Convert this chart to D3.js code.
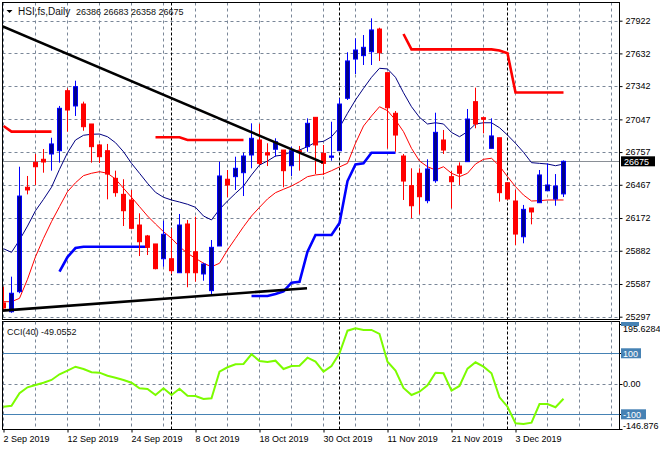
<!DOCTYPE html>
<html><head><meta charset="utf-8">
<script src="https://cdn.jsdelivr.net/npm/d3@7"></script>
<style>
html,body{margin:0;padding:0;background:#fff;}
svg{display:block;font-family:"Liberation Sans",Arial,sans-serif;}
</style></head>
<body>
<svg id="chart" width="660" height="450"></svg>
<script>
// ---------- DATA ----------
const dates = ["2 Sep","3 Sep","4 Sep","5 Sep","6 Sep","9 Sep","10 Sep","11 Sep","12 Sep","13 Sep","16 Sep","17 Sep","18 Sep","19 Sep","20 Sep","23 Sep","24 Sep","25 Sep","26 Sep","27 Sep","30 Sep",
"2 Oct","3 Oct","4 Oct","8 Oct","9 Oct","10 Oct","11 Oct","14 Oct","15 Oct","16 Oct","17 Oct","18 Oct","21 Oct","22 Oct","23 Oct","24 Oct","25 Oct","28 Oct","29 Oct","30 Oct","31 Oct",
"1 Nov","4 Nov","5 Nov","6 Nov","7 Nov","8 Nov","11 Nov","12 Nov","13 Nov","14 Nov","15 Nov","18 Nov","19 Nov","20 Nov","21 Nov","22 Nov","25 Nov","26 Nov","27 Nov","28 Nov","29 Nov",
"2 Dec","3 Dec","4 Dec","5 Dec","6 Dec","9 Dec","10 Dec","11 Dec"];
const open  = [25419,25341,25519,26445,26666,26693,26740,26769,27301,27166,27183,27006,26820,26769,26524,26382,26332,26110,26013,25942,25811,25811,25687,26119,25873,25676,25528,25924,26516,26539,26574,26731,26864,26751,26782,26775,26636,26769,26805,27065,26746,26711,26769,27234,27582,27612,27647,27848,27461,27101,26722,26459,26569,26326,26503,26864,26539,26633,26672,27204,27062,26790,26884,26485,26323,26006,26261,26308,26414,26341,26386];
const high  = [25563,25652,26627,26545,26740,26784,26884,27166,27322,27390,27204,27006,26829,26829,26592,26516,26421,26214,26022,25942,26148,26081,26208,26155,26184,25776,25977,26672,26598,26716,26751,27012,27006,26835,26879,26775,26805,26811,27056,27065,26820,27026,27234,27642,27766,27795,27943,27860,27461,27121,26740,26613,26613,26693,27106,26953,26589,26666,27139,27328,27071,27056,26884,26485,26421,26288,26261,26598,26657,26562,26683];
const low   = [25356,25332,25505,26382,26465,26574,26592,26663,26938,27077,26946,26663,26660,26338,26361,26101,26072,25835,25844,25717,25740,25676,25687,25558,25607,25616,25489,25924,26356,26421,26367,26613,26642,26633,26716,26445,26545,26592,26760,26562,26554,26680,26769,27219,27449,27529,27529,27565,26790,26760,26332,26170,26205,26303,26485,26740,26258,26465,26672,26968,26923,26790,26317,26332,25933,25948,26116,26308,26414,26281,26358];
const close = [25374,25505,26367,26421,26627,26669,26829,27145,27130,27337,26982,26805,26716,26562,26397,26237,26081,25962,25912,25723,26028,25705,26110,25687,25687,25764,25912,26545,26465,26613,26722,26879,26657,26731,26849,26592,26769,26760,27012,26820,26657,26722,27183,27565,27662,27686,27840,27638,27150,26908,26500,26281,26361,26607,26932,26775,26494,26569,27050,27006,27048,26900,26397,26341,26030,26249,26226,26554,26465,26456,26675];
const maFast = [25900,25868,25977,26101,26237,26338,26445,26604,26751,26864,26906,26915,26917,26893,26840,26760,26657,26569,26480,26400,26356,26332,26314,26294,26267,26190,26155,26249,26323,26391,26456,26554,26642,26678,26722,26731,26760,26775,26805,26844,26852,26893,26975,27101,27219,27322,27420,27500,27494,27420,27283,27159,27065,27006,27017,27006,26931,26893,26938,27006,27017,27017,26973,26908,26835,26755,26663,26657,26651,26636,26651];
const maSlow = [25430,25430,25460,25629,25829,25992,26140,26273,26406,26485,26548,26569,26583,26569,26518,26436,26356,26273,26190,26119,26051,25992,25918,25859,25815,25771,25740,25771,25889,25992,26095,26190,26267,26341,26397,26427,26456,26494,26539,26554,26562,26592,26625,26657,26835,26988,27077,27159,27124,27041,26938,26790,26678,26627,26598,26627,26569,26539,26569,26651,26693,26702,26633,26539,26450,26376,26323,26326,26332,26332,26332];
const stopUpper = [26988,26938,26938,26938,26938,26938,26938,null,null,null,null,null,null,null,null,null,null,null,null,26888,26888,26888,26888,26864,26864,26864,26864,26864,26864,26864,26864,null,null,null,null,null,null,null,null,null,null,null,null,null,null,null,null,null,null,null,27804,27668,27668,27668,27668,27668,27668,27668,27668,27668,27668,27668,27658,27633,27285,27285,27285,27285,27285,27285,27285];
const stopLower = [null,null,null,null,null,null,null,25696,25826,25906,25918,25918,25918,25918,25918,25918,25918,25918,25918,null,null,null,null,null,null,null,null,null,null,null,null,25481,25481,25481,25498,25521,25599,25607,25874,26022,26022,26022,26128,26500,26647,26657,26751,26751,26751,26751,null,null,null,null,null,null,null,null,null,null,null,null,null,null,null,null,null,null,null,null,null];
const cci = [-75.1,-71.8,-31.1,-11.5,-3.9,3.6,12.5,31.1,43,56,48.5,37.7,36.4,26.6,20,12.5,3.6,-14.8,-17,-36.7,-14.8,-36.7,-16.1,-39,-40,-49.8,-47.5,39.7,54.1,63.9,64.9,96.7,74.8,71.5,75.7,48.5,58.4,59.3,85.6,72.5,39.7,58.4,100,174.1,182,176.4,176.4,163.3,72.5,43,-13.8,-36.7,-25.9,-4.9,36.4,34.4,-22.6,-7.2,49.5,70.5,56.1,34.4,-44.3,-75.1,-129.5,-131.8,-127.5,-66.2,-66.2,-77,-49.0552];
const trendDown = [{i:0, p:27871},{i:40, p:26663}];
const trendUp   = [{i:0, p:25351},{i:38, p:25549}];
const priceTicks = [27922,27632,27342,27047,26757,26467,26172,25882,25587,25297];
const cciTicks = [195.6284,100,0,-100,-146.876];
const cciLevels = [100,-100];
const dateTickIdx = [0,8,16,24,32,40,48,56,64];
const dateTickLabels = ["2 Sep 2019","12 Sep 2019","24 Sep 2019","8 Oct 2019","18 Oct 2019","30 Oct 2019","11 Nov 2019","21 Nov 2019","3 Dec 2019"];
const monthStarts = [21,42,63];
const lastPrice = 26675;
const titleText = "HSI,fs,Daily";
const ohlcText = "26386 26683 26358 26675";

// ---------- LAYOUT ----------
const svg = d3.select("#chart");
const L = 2.5, R = 619.5, T = 2.5, B1 = 319.5, T2 = 321.5, B2 = 429.5;
const x = d3.scaleLinear().domain([0, 1]).range([3, 11]);
const y = d3.scaleLinear().domain([25297, 27922]).range([316.7, 20.7]);
const yc = d3.scaleLinear().domain([-146.876, 195.6284]).range([428.6, 324.1]);
const gridIdx = d3.range(0, 77, 4);
const gridColor = "#7a8798";

svg.append("rect").attr("width",660).attr("height",450).attr("fill","#fff");

const defs = svg.append("defs");
defs.append("clipPath").attr("id","cMain").append("rect").attr("x",L).attr("y",T).attr("width",R-L).attr("height",B1-T);
defs.append("clipPath").attr("id","cCci").append("rect").attr("x",L).attr("y",T2).attr("width",R-L).attr("height",B2-T2);

// main grid
const gMain = svg.append("g").attr("clip-path","url(#cMain)");
gMain.selectAll("line.hg").data(priceTicks).join("line")
  .attr("x1",L).attr("x2",R).attr("y1",d=>Math.round(y(d))+0.5).attr("y2",d=>Math.round(y(d))+0.5)
  .attr("stroke",gridColor).attr("stroke-dasharray","3,3");
gMain.selectAll("line.vg").data(gridIdx).join("line")
  .attr("x1",d=>x(d)+0.5).attr("x2",d=>x(d)+0.5).attr("y1",T).attr("y2",B1)
  .attr("stroke",gridColor).attr("stroke-dasharray","3,3");
gMain.selectAll("line.ms").data(monthStarts).join("line")
  .attr("x1",d=>x(d)+0.5).attr("x2",d=>x(d)+0.5).attr("y1",T).attr("y2",B1)
  .attr("stroke","#000").attr("stroke-dasharray","3,2");
// current price line
gMain.append("line").attr("x1",L).attr("x2",R)
  .attr("y1",Math.round(y(lastPrice))+0.5).attr("y2",Math.round(y(lastPrice))+0.5)
  .attr("stroke","#8a8f96");

// moving averages
const lineGen = d3.line().defined(d=>d[1]!==null).x(d=>x(d[0])+0.5).y(d=>y(d[1]));
gMain.append("path").attr("d",lineGen(maSlow.map((v,i)=>[i,v]))).attr("fill","none").attr("stroke","#ff0000").attr("stroke-width",1);
gMain.append("path").attr("d",lineGen(maFast.map((v,i)=>[i,v]))).attr("fill","none").attr("stroke","#000080").attr("stroke-width",1);
// stops
gMain.append("path").attr("d",lineGen(stopUpper.map((v,i)=>[i,v]))).attr("fill","none").attr("stroke","#ff0000").attr("stroke-width",2.6);
gMain.append("path").attr("d",lineGen(stopLower.map((v,i)=>[i,v]))).attr("fill","none").attr("stroke","#0000ff").attr("stroke-width",2.6);

// candles
const candles = gMain.append("g");
d3.range(close.length).forEach(i=>{
  const bull = close[i] >= open[i];
  const col = bull ? "#0000ff" : "#ff0000";
  const cx = x(i)+0.5;
  candles.append("line").attr("x1",cx).attr("x2",cx).attr("y1",y(high[i])).attr("y2",y(low[i])).attr("stroke",col);
  const top = y(Math.max(open[i],close[i])), bot = y(Math.min(open[i],close[i]));
  candles.append("rect").attr("x",x(i)-2+0.5).attr("y",top).attr("width",4).attr("height",Math.max(1,bot-top))
    .attr("fill", bull ? "#00008b" : "#ff0000").attr("stroke",col);
});

// trendlines
const tl = d3.line().x(d=>x(d.i)).y(d=>y(d.p));
function extend(pts, i0){ const s=(pts[1].p-pts[0].p)/(pts[1].i-pts[0].i); return [{i:i0,p:pts[0].p+s*(i0-pts[0].i)}, pts[1]]; }
gMain.append("path").attr("d",tl(extend(trendDown,-0.1))).attr("stroke","#000").attr("stroke-width",2.6).attr("fill","none");
gMain.append("path").attr("d",tl(extend(trendUp,-0.1))).attr("stroke","#000").attr("stroke-width",2.6).attr("fill","none");

// frames
svg.append("rect").attr("x",L).attr("y",T).attr("width",R-L).attr("height",B1-T).attr("fill","none").attr("stroke","#000");
svg.append("rect").attr("x",L).attr("y",T2).attr("width",R-L).attr("height",B2-T2).attr("fill","none").attr("stroke","#000");

// right price axis
const ax = svg.append("g").attr("transform",`translate(${R},0)`)
  .call(d3.axisRight(y).tickValues(priceTicks).tickSize(3).tickPadding(3).tickFormat(d=>d));
ax.select(".domain").remove();
ax.selectAll("text").attr("font-size",9).attr("fill","#000").attr("font-family","Liberation Sans, Arial, sans-serif");
ax.selectAll("line").attr("stroke","#000");
// last price label
const lpY = y(lastPrice);
svg.append("rect").attr("x",621).attr("y",lpY-5).attr("width",34).attr("height",10).attr("fill","#000");
svg.append("text").attr("x",624).attr("y",lpY+3.5).attr("font-size",9).attr("fill","#fff").text(lastPrice);

// title
svg.append("path").attr("d","M6.5,10 L12.5,10 L9.5,13 Z").attr("fill","#000");
svg.append("text").attr("x",18).attr("y",15).attr("font-size",10).attr("fill","#111").text(titleText);
svg.append("text").attr("x",76).attr("y",15).attr("font-size",9).attr("fill","#111").text(ohlcText);

// ---------- CCI PANEL ----------
const gC = svg.append("g").attr("clip-path","url(#cCci)");
gC.selectAll("line.vg").data(gridIdx).join("line")
  .attr("x1",d=>x(d)+0.5).attr("x2",d=>x(d)+0.5).attr("y1",T2).attr("y2",B2)
  .attr("stroke",gridColor).attr("stroke-dasharray","3,3");
gC.selectAll("line.ms").data(monthStarts).join("line")
  .attr("x1",d=>x(d)+0.5).attr("x2",d=>x(d)+0.5).attr("y1",T2).attr("y2",B2)
  .attr("stroke","#000").attr("stroke-dasharray","3,2");
gC.append("line").attr("x1",L).attr("x2",R).attr("y1",Math.round(yc(0))+0.5).attr("y2",Math.round(yc(0))+0.5)
  .attr("stroke",gridColor).attr("stroke-dasharray","3,3");
gC.selectAll("line.lv").data(cciLevels).join("line")
  .attr("x1",L).attr("x2",R).attr("y1",d=>Math.round(yc(d))+0.5).attr("y2",d=>Math.round(yc(d))+0.5)
  .attr("stroke","#4682b4");
gC.append("path").attr("d",d3.line().x((d,i)=>x(i)+0.5).y(d=>yc(d))(cci))
  .attr("fill","none").attr("stroke","#7cfc00").attr("stroke-width",2);
svg.append("text").attr("x",7).attr("y",335).attr("font-size",9).attr("fill","#111").text("CCI(40) " + cci[cci.length-1]);

// CCI right labels
const cg = svg.append("g");
cciTicks.forEach(v=>{
  const yy = yc(v);
  const boxed = cciLevels.includes(v);
  const txt = (v===0) ? "0.00" : String(v);
  cg.append("line").attr("x1",R).attr("x2",R+3).attr("y1",Math.round(yy)+0.5).attr("y2",Math.round(yy)+0.5).attr("stroke","#000");
  if (boxed) {
    cg.append("rect").attr("x",621).attr("y",yy-5).attr("width",txt.length*5+5).attr("height",10).attr("fill","#4682b4");
    cg.append("text").attr("x",623).attr("y",yy+3.5).attr("font-size",9).attr("fill","#fff").text(txt);
  } else {
    cg.append("text").attr("x",623).attr("y",(v===195.6284? yy+8 : (v===-146.876? yy+0.2 : yy+3.5))).attr("font-size",9).attr("fill","#000").text(txt);
  }
});
cg.append("rect").attr("x",621).attr("y",322).attr("width",18).attr("height",4).attr("fill","#4682b4");

// bottom date axis
const bx = svg.append("g").attr("transform",`translate(0,${B2})`)
  .call(d3.axisBottom(x).tickValues(dateTickIdx).tickSize(3).tickFormat((d,k)=>dateTickLabels[k]));
bx.select(".domain").remove();
bx.selectAll("line").attr("stroke","#000").attr("transform","translate(0.5,0)");
bx.selectAll("text").attr("text-anchor","start").attr("dx",0).attr("dy",0).attr("y",12.5)
  .attr("font-size",9).attr("fill","#000").attr("font-family","Liberation Sans, Arial, sans-serif");
</script>
</body></html>
